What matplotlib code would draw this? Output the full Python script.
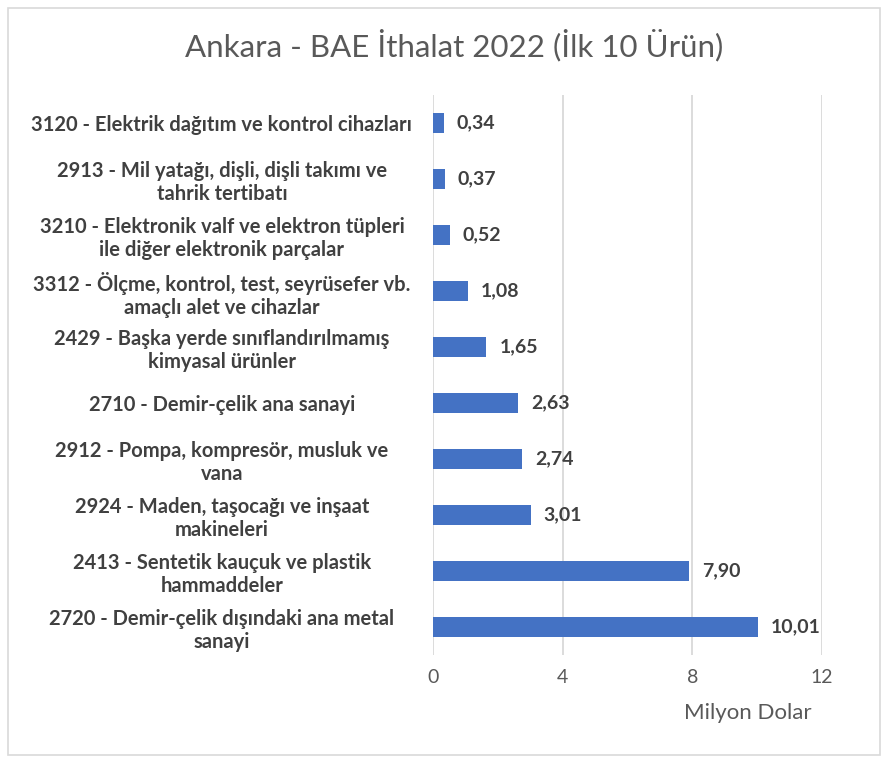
import matplotlib.pyplot as plt
from matplotlib.patches import Rectangle

plt.rcParams['font.family'] = ['Lato', 'DejaVu Sans']

# bottom to top
categories = [
    "2720 - Demir-çelik dışındaki ana metal\nsanayi",
    "2413 - Sentetik kauçuk ve plastik\nhammaddeler",
    "2924 - Maden, taşocağı ve inşaat\nmakineleri",
    "2912 - Pompa, kompresör, musluk ve\nvana",
    "2710 - Demir-çelik ana sanayi",
    "2429 - Başka yerde sınıflandırılmamış\nkimyasal ürünler",
    "3312 - Ölçme, kontrol, test, seyrüsefer vb.\namaçlı alet ve cihazlar",
    "3210 - Elektronik valf ve elektron tüpleri\nile diğer elektronik parçalar",
    "2913 - Mil yatağı, dişli, dişli takımı ve\ntahrik tertibatı",
    "3120 - Elektrik dağıtım ve kontrol cihazları",
]
values = [10.01, 7.90, 3.01, 2.74, 2.63, 1.65, 1.08, 0.52, 0.37, 0.34]
xticks = [0, 4, 8, 12]

fig = plt.figure(figsize=(8.88, 7.63), dpi=100)
ax = fig.add_axes([0.4876, 0.1415, 0.4381, 0.734])

y = range(len(categories))
ax.barh(y, values, height=0.36, color='#4472C4', zorder=3)
for yi, v in zip(y, values):
    ax.text(v + 0.4, yi, f"{v:.2f}".replace('.', ','), va='center', ha='left',
            fontsize=14, fontweight='bold', color='#404040')

ax.set_xlim(0, 12)
ax.set_ylim(-0.5, len(categories) - 0.5)
ax.set_xticks(xticks)
ax.set_xticklabels([str(t) for t in xticks], fontsize=14, color='#595959')
ax.set_yticks(list(y))
ax.set_yticklabels(categories, fontsize=14.5, fontweight='bold', color='#404040',
                   ha='center', linespacing=1.2)
ax.tick_params(axis='y', length=0, pad=152)
ax.tick_params(axis='x', length=0, pad=10)
ax.grid(axis='x', color='#D9D9D9', linewidth=1.3, zorder=0)
for s in ax.spines.values():
    s.set_visible(False)

ax.text(0.974, -0.086, "Milyon Dolar", transform=ax.transAxes, ha='right', va='top',
        fontsize=16, color='#595959')

fig.text(0.511, 0.941, "Ankara - BAE İthalat 2022 (İlk 10 Ürün)", ha='center', va='center',
         fontsize=22.5, color='#595959')

fig.patches.append(Rectangle((0.009, 0.01), 0.982, 0.98, transform=fig.transFigure,
                             fill=False, edgecolor='#D9D9D9', linewidth=1.2))

fig.savefig('out.png', dpi=100)
